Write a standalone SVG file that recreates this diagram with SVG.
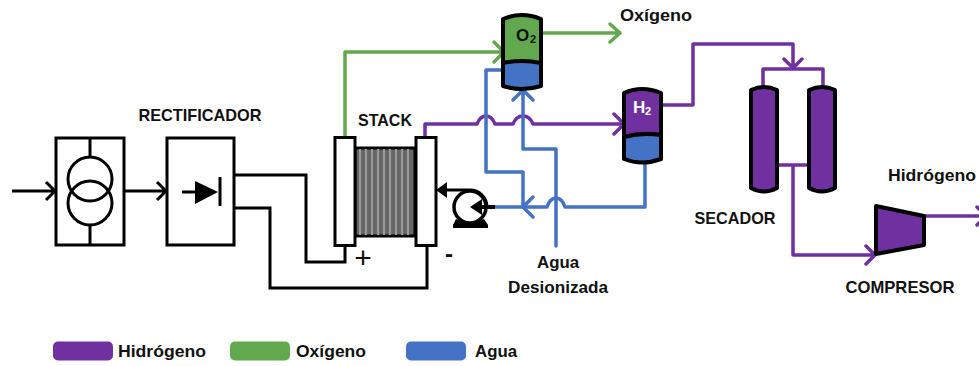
<svg xmlns="http://www.w3.org/2000/svg" width="979" height="366" viewBox="0 0 979 366">
<style>
text{font-family:"Liberation Sans",Arial,sans-serif;font-weight:700;font-size:17px;fill:#111}
.k{fill:none;stroke:#000;stroke-width:3;stroke-linejoin:miter}
.b{fill:#fff;stroke:#000;stroke-width:3}
.pu{fill:none;stroke:#7030a0;stroke-width:3.500;stroke-linejoin:round;stroke-linecap:round}
.gr{fill:none;stroke:#62a84f;stroke-width:3.500;stroke-linejoin:round;stroke-linecap:round}
.bl{fill:none;stroke:#4472c4;stroke-width:3.500;stroke-linejoin:round;stroke-linecap:round}
.ves{fill:none;stroke:#000;stroke-width:4;stroke-linejoin:round}
.gs{stroke:#9a9a9a;stroke-width:2}
</style>
<g id="connectors">
<path class="k" d="M12 191H55M46 182l9 9-9 9"/>
<path class="k" d="M124 191H166M157 182l9 9-9 9"/>
<path class="k" d="M234 175H306V262H345V245"/>
<path class="k" d="M234 208H270V288H427V245"/>
<path class="gr" d="M345 137V52H504M494 42l10 10-10 10"/>
<path class="gr" d="M541 33H620M610 24l10 9-10 9"/>
<path class="pu" d="M425 137V124H477C479 119 482 116 486 116S493 119 495 124H513C515 119 519 116 523 116S531 119 533 124H624M614 114l10 10-10 10"/>
<path class="pu" d="M661 105H693V44H793V68M784 59l9 9 9-9"/>
<path class="pu" d="M763 88V69H823V88"/>
<path class="pu" d="M778 165H808M793 165V255H875M866 246l9 9-9 9"/>
<path class="pu" d="M924 216H985M977 207l9 9-9 9"/>
<path class="bl" d="M503 70H486V172H523V207"/>
<path class="bl" d="M645 165V207H565C563 201 560 198 556 198S549 201 547 207H495"/>
<path class="bl" d="M533 197l-10 10 10 10"/>
<path class="bl" d="M556 246V149H523V92M513 100l10-10 10 10"/>
</g>
<g id="transformer">
<rect class="b" x="56" y="138" width="68" height="107"/>
<path class="k" d="M90 138V157M90 225V245"/>
<circle class="k" cx="90" cy="179" r="22"/>
<circle class="k" cx="90" cy="203" r="22"/>
</g>
<g id="rectifier">
<rect class="b" x="167" y="138" width="67" height="107"/>
<path class="k" d="M182 192H197M220 177V206"/>
<path d="M195 181L218 192L195 204Z" fill="#000"/>
</g>
<text x="200" y="121" text-anchor="middle" textLength="123" lengthAdjust="spacingAndGlyphs">RECTIFICADOR</text>
<g id="stack">
<rect x="355" y="148" width="60" height="88" fill="#666" stroke="#000" stroke-width="3"/>
<path class="gs" d="M360 149V235M366 149V235M372 149V235M378 149V235M384 149V235M390 149V235M396 149V235M402 149V235M408 149V235"/>
<rect class="b" x="335" y="137.500" width="20" height="108"/>
<rect class="b" x="416" y="137.500" width="20" height="108"/>
<text x="385" y="126" text-anchor="middle" textLength="54" lengthAdjust="spacingAndGlyphs">STACK</text>
<text x="363" y="268" text-anchor="middle" style="font-size:30px;font-weight:400">+</text>
<text x="449" y="262" text-anchor="middle" style="font-size:24px">-</text>
</g>
<g id="pump">
<circle cx="470" cy="207" r="16" fill="#fff" stroke="#000" stroke-width="3.500"/>
<path class="k" d="M446 190H470A17 17 0 0 1 487 207" stroke-width="4"/>
<path d="M436 190L447 182V198Z" fill="#000"/>
<path d="M495 205V209H482V215L470 207L482 199V205Z" fill="#000"/>
<path d="M456 219L453 225V228H488V225L484 219L470 224Z" fill="#000"/>
</g>
<g id="o2">
<path fill="#62a84f" d="M503 19Q522 11 541 19V63Q522 59 503 63Z"/>
<path fill="#4472c4" d="M503 63Q522 59 541 63V86Q522 92 503 86Z"/>
<path class="ves" d="M503 63Q522 59 541 63"/>
<path class="ves" d="M503 19Q522 11 541 19V86Q522 92 503 86Z"/>
<text x="516" y="41" style="font-size:17px">O</text><text x="530" y="43" style="font-size:11px">2</text>
</g>
<g id="h2">
<path fill="#7030a0" d="M624 93Q642 85 661 93V135Q642 132 624 137Z"/>
<path fill="#4472c4" d="M624 137Q642 132 661 135V159Q642 166 624 159Z"/>
<path class="ves" d="M624 137Q642 132 661 135"/>
<path class="ves" d="M624 93Q642 85 661 93V159Q642 166 624 159Z"/>
<text x="633" y="113" style="font-size:17px;fill:#fff">H</text><text x="645" y="115" style="font-size:11px;fill:#fff">2</text>
</g>
<g id="secador">
<path class="ves" d="M751 90Q764 84 777 90V188Q764 195 751 188Z" style="fill:#7030a0"/>
<path class="ves" d="M809 90Q822 84 835 90V188Q822 195 809 188Z" style="fill:#7030a0"/>
<text x="735" y="224" text-anchor="middle" textLength="81" lengthAdjust="spacingAndGlyphs">SECADOR</text>
</g>
<g id="compresor">
<path class="ves" d="M876 206L924 216V245L876 254Z" style="fill:#7030a0"/>
<text x="900" y="293" text-anchor="middle" textLength="109" lengthAdjust="spacingAndGlyphs">COMPRESOR</text>
</g>
<text x="656" y="21" text-anchor="middle" textLength="72" lengthAdjust="spacingAndGlyphs">Oxígeno</text>
<text x="932" y="181" text-anchor="middle" textLength="88" lengthAdjust="spacingAndGlyphs">Hidrógeno</text>
<text x="558" y="268" text-anchor="middle" textLength="42" lengthAdjust="spacingAndGlyphs">Agua</text>
<text x="558" y="293" text-anchor="middle" textLength="100" lengthAdjust="spacingAndGlyphs">Desionizada</text>
<g id="legend">
<rect x="53" y="341.500" width="60" height="19" rx="5" fill="#7030a0"/>
<text x="118" y="357" textLength="88" lengthAdjust="spacingAndGlyphs">Hidrógeno</text>
<rect x="230" y="341.500" width="60" height="19" rx="5" fill="#62a84f"/>
<text x="296" y="357" textLength="70" lengthAdjust="spacingAndGlyphs">Oxígeno</text>
<rect x="406" y="341.500" width="60" height="19" rx="5" fill="#4472c4"/>
<text x="475" y="357" textLength="42" lengthAdjust="spacingAndGlyphs">Agua</text>
</g>
</svg>
